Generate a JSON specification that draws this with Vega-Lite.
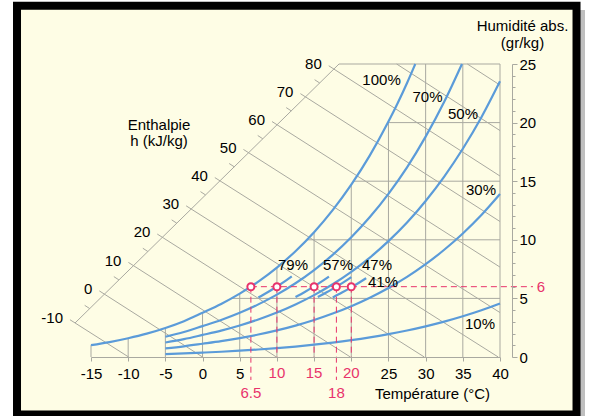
{
  "$schema": "https://vega.github.io/schema/vega-lite/v6.json",
  "width": 409,
  "height": 293,
  "autosize": {"type": "none"},
  "padding": {"left": 91, "top": 64, "right": 90, "bottom": 59},
  "background": "white",
  "config": {
    "font": "Liberation Sans",
    "view": {"stroke": null},
    "axis": {
      "labelFont": "Liberation Sans",
      "labelFontSize": 15,
      "labelColor": "#000",
      "domainColor": "#a9a9a0",
      "tickColor": "#a9a9a0",
      "grid": false,
      "titleFont": "Liberation Sans",
      "titleFontWeight": "normal",
      "titleFontSize": 15,
      "titleColor": "#000",
      "labelOverlap": false,
      "labelFlush": false
    },
    "text": {"font": "Liberation Sans", "fontSize": 15, "color": "#000"}
  },
  "resolve": {"axis": {"x": "independent", "y": "independent"}},
  "datasets": {
    "frame": [{"T": -24.95, "T2": 50.29, "w": -4.906, "w2": 29.97}],
    "shadow": [{"T": -23.88, "T2": 51.43, "w": -5.375, "w2": 29.61}],
    "vgrid": [
      {"T": -15, "w": 0, "w2": 1.016}, {"T": -10, "w": 0, "w2": 1.6}, {"T": -5, "w": 0, "w2": 2.476},
      {"T": 0, "w": 0, "w2": 3.775}, {"T": 5, "w": 0, "w2": 5.403}, {"T": 10, "w": 0, "w2": 7.632},
      {"T": 15, "w": 0, "w2": 10.65}, {"T": 20, "w": 0, "w2": 14.699}, {"T": 25, "w": 0, "w2": 20.086},
      {"T": 30, "w": 0, "w2": 25}, {"T": 35, "w": 0, "w2": 25}, {"T": 40, "w": 0, "w2": 25}
    ],
    "hgrid": [
      {"w": 5, "T": 3.91, "T2": 40}, {"w": 10, "T": 14.05, "T2": 40}, {"w": 15, "T": 20.32, "T2": 40},
      {"w": 20, "T": 24.93, "T2": 40}, {"w": 25, "T": 18.35, "T2": 40}
    ],
    "isen": [
      {"id": "axis", "T": -17.15, "w": 2.9}, {"id": "axis", "T": 18.35, "w": 25},
      {"id": "h-10", "T": -17.83, "w": 3.18}, {"id": "h-10", "T": -9.94, "w": 0},
      {"id": "h0", "T": -13.88, "w": 5.64}, {"id": "h0", "T": 0, "w": 0},
      {"id": "h10", "T": -9.97, "w": 8.07}, {"id": "h10", "T": 9.94, "w": 0},
      {"id": "h20", "T": -6.09, "w": 10.49}, {"id": "h20", "T": 19.88, "w": 0},
      {"id": "h30", "T": -2.21, "w": 12.9}, {"id": "h30", "T": 29.82, "w": 0},
      {"id": "h40", "T": 1.65, "w": 15.31}, {"id": "h40", "T": 39.76, "w": 0},
      {"id": "h50", "T": 5.5, "w": 17.71}, {"id": "h50", "T": 40, "w": 3.79},
      {"id": "h60", "T": 9.34, "w": 20.09}, {"id": "h60", "T": 40, "w": 7.67},
      {"id": "h70", "T": 13.16, "w": 22.47}, {"id": "h70", "T": 40, "w": 11.56},
      {"id": "h80", "T": 16.97, "w": 24.85}, {"id": "h80", "T": 40, "w": 15.44},
      {"id": "h90", "T": 26.1, "w": 25}, {"id": "h90", "T": 40, "w": 19.32},
      {"id": "h100", "T": 35.61, "w": 25}, {"id": "h100", "T": 40, "w": 23.2},
      {"id": "m-5", "T": -15.17, "w": 4.13}, {"id": "m-5", "T": -15.85, "w": 4.41},
      {"id": "m5", "T": -11.25, "w": 6.58}, {"id": "m5", "T": -11.93, "w": 6.86},
      {"id": "m15", "T": -7.35, "w": 9.0}, {"id": "m15", "T": -8.03, "w": 9.28},
      {"id": "m25", "T": -3.47, "w": 11.42}, {"id": "m25", "T": -4.15, "w": 11.7},
      {"id": "m35", "T": 0.4, "w": 13.83}, {"id": "m35", "T": -0.28, "w": 14.11},
      {"id": "m45", "T": 4.26, "w": 16.23}, {"id": "m45", "T": 3.58, "w": 16.51},
      {"id": "m55", "T": 8.1, "w": 18.62}, {"id": "m55", "T": 7.42, "w": 18.9},
      {"id": "m65", "T": 11.93, "w": 21.0}, {"id": "m65", "T": 11.25, "w": 21.28},
      {"id": "m75", "T": 15.75, "w": 23.38}, {"id": "m75", "T": 15.07, "w": 23.66}
    ],
    "hlabels": [
      {"lab": "-10", "T": -17.15, "w": 2.9}, {"lab": "0", "T": -13.2, "w": 5.36},
      {"lab": "10", "T": -9.29, "w": 7.79}, {"lab": "20", "T": -5.41, "w": 10.21},
      {"lab": "30", "T": -1.53, "w": 12.62}, {"lab": "40", "T": 2.33, "w": 15.03},
      {"lab": "50", "T": 6.18, "w": 17.43}, {"lab": "60", "T": 10.02, "w": 19.81},
      {"lab": "70", "T": 13.84, "w": 22.19}, {"lab": "80", "T": 17.65, "w": 24.57}
    ],
    "rh": [
      {"c": "100", "T": -15, "w": 1.016}, {"c": "100", "T": -12.5, "w": 1.275}, {"c": "100", "T": -10, "w": 1.6},
      {"c": "100", "T": -7.5, "w": 1.99}, {"c": "100", "T": -5, "w": 2.476}, {"c": "100", "T": -2.5, "w": 3.057},
      {"c": "100", "T": 0, "w": 3.775}, {"c": "100", "T": 2.5, "w": 4.524}, {"c": "100", "T": 5, "w": 5.403},
      {"c": "100", "T": 7.5, "w": 6.435}, {"c": "100", "T": 10, "w": 7.632}, {"c": "100", "T": 12.5, "w": 9.028},
      {"c": "100", "T": 15, "w": 10.65}, {"c": "100", "T": 17.5, "w": 12.53}, {"c": "100", "T": 20, "w": 14.699},
      {"c": "100", "T": 22.5, "w": 17.199}, {"c": "100", "T": 25, "w": 20.086}, {"c": "100", "T": 26.25, "w": 21.67},
      {"c": "100", "T": 27.5, "w": 23.38}, {"c": "100", "T": 28.61, "w": 25},
      {"c": "70", "T": -5, "w": 1.731}, {"c": "70", "T": -2.5, "w": 2.137}, {"c": "70", "T": 0, "w": 2.638},
      {"c": "70", "T": 2.5, "w": 3.16}, {"c": "70", "T": 5, "w": 3.772}, {"c": "70", "T": 7.5, "w": 4.49},
      {"c": "70", "T": 10, "w": 5.323}, {"c": "70", "T": 12.5, "w": 6.293}, {"c": "70", "T": 15, "w": 7.417},
      {"c": "70", "T": 17.5, "w": 8.719}, {"c": "70", "T": 20, "w": 10.217}, {"c": "70", "T": 22.5, "w": 11.94},
      {"c": "70", "T": 25, "w": 13.925}, {"c": "70", "T": 27.5, "w": 16.183}, {"c": "70", "T": 30, "w": 18.8},
      {"c": "70", "T": 32.5, "w": 21.775}, {"c": "70", "T": 34.885, "w": 25},
      {"c": "50", "T": -5, "w": 1.236}, {"c": "50", "T": -2.5, "w": 1.525}, {"c": "50", "T": 0, "w": 1.882},
      {"c": "50", "T": 2.5, "w": 2.254}, {"c": "50", "T": 5, "w": 2.69}, {"c": "50", "T": 7.5, "w": 3.201},
      {"c": "50", "T": 10, "w": 3.793}, {"c": "50", "T": 12.5, "w": 4.482}, {"c": "50", "T": 15, "w": 5.28},
      {"c": "50", "T": 17.5, "w": 6.203}, {"c": "50", "T": 20, "w": 7.264}, {"c": "50", "T": 22.5, "w": 8.482},
      {"c": "50", "T": 25, "w": 9.884}, {"c": "50", "T": 27.5, "w": 11.474}, {"c": "50", "T": 30, "w": 13.314},
      {"c": "50", "T": 32.5, "w": 15.399}, {"c": "50", "T": 35, "w": 17.771}, {"c": "50", "T": 37.5, "w": 20.458},
      {"c": "50", "T": 40, "w": 23.524},
      {"c": "30", "T": -5, "w": 0.741}, {"c": "30", "T": -2.5, "w": 0.914}, {"c": "30", "T": 0, "w": 1.128},
      {"c": "30", "T": 2.5, "w": 1.35}, {"c": "30", "T": 5, "w": 1.611}, {"c": "30", "T": 7.5, "w": 1.917},
      {"c": "30", "T": 10, "w": 2.27}, {"c": "30", "T": 12.5, "w": 2.681}, {"c": "30", "T": 15, "w": 3.157},
      {"c": "30", "T": 17.5, "w": 3.707}, {"c": "30", "T": 20, "w": 4.338}, {"c": "30", "T": 22.5, "w": 5.062},
      {"c": "30", "T": 25, "w": 5.893}, {"c": "30", "T": 27.5, "w": 6.834}, {"c": "30", "T": 30, "w": 7.92},
      {"c": "30", "T": 32.5, "w": 9.149}, {"c": "30", "T": 35, "w": 10.542}, {"c": "30", "T": 37.5, "w": 12.115},
      {"c": "30", "T": 40, "w": 13.904},
      {"c": "10", "T": -5, "w": 0.247}, {"c": "10", "T": -2.5, "w": 0.304}, {"c": "10", "T": 0, "w": 0.375},
      {"c": "10", "T": 2.5, "w": 0.45}, {"c": "10", "T": 5, "w": 0.536}, {"c": "10", "T": 7.5, "w": 0.638},
      {"c": "10", "T": 10, "w": 0.755}, {"c": "10", "T": 12.5, "w": 0.891}, {"c": "10", "T": 15, "w": 1.049},
      {"c": "10", "T": 17.5, "w": 1.231}, {"c": "10", "T": 20, "w": 1.439}, {"c": "10", "T": 22.5, "w": 1.678},
      {"c": "10", "T": 25, "w": 1.952}, {"c": "10", "T": 27.5, "w": 2.262}, {"c": "10", "T": 30, "w": 2.618},
      {"c": "10", "T": 32.5, "w": 3.02}, {"c": "10", "T": 35, "w": 3.475}, {"c": "10", "T": 37.5, "w": 3.987},
      {"c": "10", "T": 40, "w": 4.567},
      {"c": "79", "T": 7.5, "w": 5.073}, {"c": "79", "T": 8.75, "w": 5.523}, {"c": "79", "T": 10, "w": 6.014},
      {"c": "79", "T": 11.25, "w": 6.539}, {"c": "79", "T": 12, "w": 6.877},
      {"c": "57", "T": 12.5, "w": 5.114}, {"c": "57", "T": 13.75, "w": 5.552}, {"c": "57", "T": 15, "w": 6.026},
      {"c": "57", "T": 16.25, "w": 6.532}, {"c": "57", "T": 17, "w": 6.856},
      {"c": "47", "T": 15.5, "w": 5.124}, {"c": "47", "T": 16.75, "w": 5.55}, {"c": "47", "T": 18, "w": 6.015},
      {"c": "47", "T": 19.25, "w": 6.499}, {"c": "47", "T": 20, "w": 6.823},
      {"c": "41", "T": 17.5, "w": 5.077}, {"c": "41", "T": 18.75, "w": 5.497}, {"c": "41", "T": 20, "w": 5.944},
      {"c": "41", "T": 21.25, "w": 6.422}, {"c": "41", "T": 22, "w": 6.727}
    ],
    "rhlabels": [
      {"lab": "100%", "T": 24.07, "w": 23.63}, {"lab": "70%", "T": 30.25, "w": 22.18},
      {"lab": "50%", "T": 35.03, "w": 20.73}, {"lab": "30%", "T": 37.45, "w": 14.25},
      {"lab": "10%", "T": 37.31, "w": 2.82}, {"lab": "79%", "T": 12.16, "w": 7.85},
      {"lab": "57%", "T": 18.22, "w": 7.85}, {"lab": "47%", "T": 23.46, "w": 7.85},
      {"lab": "41%", "T": 24.27, "w": 6.4}
    ],
    "pts": [
      {"T": 6.5, "w": 6, "low": -1.96}, {"T": 10, "w": 6, "low": 0}, {"T": 15, "w": 6, "low": 0},
      {"T": 18, "w": 6, "low": -1.96}, {"T": 20, "w": 6, "low": 0}
    ],
    "hdash": [{"T": 6.5, "T2": 44.44, "w": 6}],
    "pinkticks": [{"T": 10, "w": 0, "lab": "10"}, {"T": 15, "w": 0, "lab": "15"}, {"T": 20, "w": 0, "lab": "20"}],
    "lowlabels": [{"T": 6.5, "w": 0, "lab": "6.5"}, {"T": 18, "w": 0, "lab": "18"}],
    "sixlabel": [{"T": 40, "w": 6, "lab": "6"}],
    "enth": [{"T": -5.86, "w": 19.8, "lab": "Enthalpie\nh (kJ/kg)"}]
  },
  "layer": [
    {
      "data": {"name": "shadow"},
      "mark": {"type": "rect", "fill": "#8a8a8a", "opacity": 0.55},
      "encoding": {
        "x": {"field": "T", "type": "quantitative", "scale": {"domain": [-15, 40], "nice": false, "zero": false}, "axis": null},
        "x2": {"field": "T2"},
        "y": {"field": "w", "type": "quantitative", "scale": {"domain": [0, 25], "nice": false, "zero": false}, "axis": null},
        "y2": {"field": "w2"}
      }
    },
    {
      "data": {"name": "frame"},
      "mark": {"type": "rect", "fill": "#fefde5", "stroke": "#000", "strokeWidth": 8},
      "encoding": {
        "x": {"field": "T", "type": "quantitative", "scale": {"domain": [-15, 40], "nice": false, "zero": false}, "axis": null},
        "x2": {"field": "T2"},
        "y": {"field": "w", "type": "quantitative", "scale": {"domain": [0, 25], "nice": false, "zero": false}, "axis": null},
        "y2": {"field": "w2"}
      }
    },
    {
      "data": {"name": "vgrid"},
      "mark": {"type": "rule", "color": "#a9a9a0", "strokeWidth": 1},
      "encoding": {
        "x": {"field": "T", "type": "quantitative", "scale": {"domain": [-15, 40], "nice": false, "zero": false}, "axis": null},
        "y": {
          "field": "w", "type": "quantitative",
          "scale": {"domain": [0, 25], "nice": false, "zero": false},
          "axis": {
            "zindex": 2,
            "orient": "right", "offset": 12,
            "values": [0, 5, 10, 15, 20, 25],
            "tickSize": 5,
            "labelPadding": 2,
            "title": ["Humidité abs.", "(gr/kg)"], "titleAngle": 0,
            "titleX": 10, "titleY": -34, "titleAlign": "center", "titleBaseline": "alphabetic",
            "titleLineHeight": 17
          }
        },
        "y2": {"field": "w2"}
      }
    },
    {
      "data": {"name": "hgrid"},
      "mark": {"type": "rule", "color": "#a9a9a0", "strokeWidth": 1},
      "encoding": {
        "x": {"field": "T", "type": "quantitative", "scale": {"domain": [-15, 40], "nice": false, "zero": false}, "axis": null},
        "x2": {"field": "T2"},
        "y": {
          "field": "w", "type": "quantitative",
          "scale": {"domain": [0, 25], "nice": false, "zero": false},
          "axis": {
            "zindex": 2,
            "orient": "right", "offset": 12,
            "values": [1,2,3,4,6,7,8,9,11,12,13,14,16,17,18,19,21,22,23,24],
            "tickSize": 3, "labels": false, "domain": false, "title": null
          }
        }
      }
    },
    {
      "data": {"name": "isen"},
      "mark": {"type": "line", "color": "#a9a9a0", "strokeWidth": 1},
      "encoding": {
        "x": {"field": "T", "type": "quantitative", "scale": {"domain": [-15, 40], "nice": false, "zero": false}, "axis": null},
        "y": {"field": "w", "type": "quantitative", "scale": {"domain": [0, 25], "nice": false, "zero": false}, "axis": null},
        "detail": {"field": "id"}
      }
    },
    {
      "data": {"name": "rh"},
      "mark": {"type": "line", "color": "#5b9bd9", "strokeWidth": 2.2, "interpolate": "monotone"},
      "encoding": {
        "x": {"field": "T", "type": "quantitative", "scale": {"domain": [-15, 40], "nice": false, "zero": false}, "axis": null},
        "y": {"field": "w", "type": "quantitative", "scale": {"domain": [0, 25], "nice": false, "zero": false}, "axis": null},
        "detail": {"field": "c"}
      }
    },
    {
      "data": {"name": "hdash"},
      "mark": {"type": "rule", "color": "#e8336b", "strokeWidth": 1, "strokeDash": [6, 4]},
      "encoding": {
        "x": {"field": "T", "type": "quantitative", "scale": {"domain": [-15, 40], "nice": false, "zero": false}, "axis": null},
        "x2": {"field": "T2"},
        "y": {"field": "w", "type": "quantitative", "scale": {"domain": [0, 25], "nice": false, "zero": false}, "axis": null}
      }
    },
    {
      "data": {"name": "pts"},
      "mark": {"type": "rule", "color": "#e8336b", "strokeWidth": 1, "strokeDash": [6, 4]},
      "encoding": {
        "x": {"field": "T", "type": "quantitative", "scale": {"domain": [-15, 40], "nice": false, "zero": false}, "axis": null},
        "y": {"field": "w", "type": "quantitative", "scale": {"domain": [0, 25], "nice": false, "zero": false}, "axis": null},
        "y2": {"field": "low"}
      }
    },
    {
      "data": {"name": "pts"},
      "mark": {"type": "point", "shape": "circle", "size": 50, "filled": false, "fill": "#ffffff", "fillOpacity": 1, "stroke": "#e8336b", "strokeWidth": 2, "opacity": 1},
      "encoding": {
        "x": {"field": "T", "type": "quantitative", "scale": {"domain": [-15, 40], "nice": false, "zero": false}, "axis": null},
        "y": {"field": "w", "type": "quantitative", "scale": {"domain": [0, 25], "nice": false, "zero": false}, "axis": null}
      }
    },
    {
      "data": {"name": "rhlabels"},
      "mark": {"type": "text", "align": "center", "baseline": "middle"},
      "encoding": {
        "x": {"field": "T", "type": "quantitative", "scale": {"domain": [-15, 40], "nice": false, "zero": false}, "axis": null},
        "y": {"field": "w", "type": "quantitative", "scale": {"domain": [0, 25], "nice": false, "zero": false}, "axis": null},
        "text": {"field": "lab"}
      }
    },
    {
      "data": {"name": "hlabels"},
      "mark": {"type": "text", "align": "right", "baseline": "middle", "dx": -12, "dy": -5},
      "encoding": {
        "x": {"field": "T", "type": "quantitative", "scale": {"domain": [-15, 40], "nice": false, "zero": false}, "axis": null},
        "y": {"field": "w", "type": "quantitative", "scale": {"domain": [0, 25], "nice": false, "zero": false}, "axis": null},
        "text": {"field": "lab"}
      }
    },
    {
      "data": {"name": "enth"},
      "mark": {"type": "text", "align": "center", "baseline": "middle", "lineBreak": "\n", "lineHeight": 16},
      "encoding": {
        "x": {"field": "T", "type": "quantitative", "scale": {"domain": [-15, 40], "nice": false, "zero": false}, "axis": null},
        "y": {"field": "w", "type": "quantitative", "scale": {"domain": [0, 25], "nice": false, "zero": false}, "axis": null},
        "text": {"field": "lab"}
      }
    },
    {
      "data": {"name": "pinkticks"},
      "mark": {"type": "text", "align": "center", "baseline": "alphabetic", "dy": 21, "color": "#e8336b"},
      "encoding": {
        "x": {
          "field": "T", "type": "quantitative",
          "scale": {"domain": [-15, 40], "nice": false, "zero": false},
          "axis": {
            "zindex": 3,
            "orient": "bottom",
            "values": [-15, -10, -5, 0, 5, 10, 15, 20, 25, 30, 35, 40],
            "labelExpr": "(datum.value == 10 || datum.value == 15 || datum.value == 20) ? '' : (datum.value < 0 ? '-' + abs(datum.value) : datum.label)",
            "tickSize": 4, "labelPadding": 17, "labelBaseline": "alphabetic",
            "title": "Température (°C)", "titleX": 341, "titleY": 41,
            "titleAlign": "center", "titleBaseline": "alphabetic"
          }
        },
        "y": {"field": "w", "type": "quantitative", "scale": {"domain": [0, 25], "nice": false, "zero": false}, "axis": null},
        "text": {"field": "lab"}
      }
    },
    {
      "data": {"name": "lowlabels"},
      "mark": {"type": "text", "align": "center", "baseline": "alphabetic", "dy": 41, "color": "#e8336b"},
      "encoding": {
        "x": {"field": "T", "type": "quantitative", "scale": {"domain": [-15, 40], "nice": false, "zero": false}, "axis": null},
        "y": {"field": "w", "type": "quantitative", "scale": {"domain": [0, 25], "nice": false, "zero": false}, "axis": null},
        "text": {"field": "lab"}
      }
    },
    {
      "data": {"name": "sixlabel"},
      "mark": {"type": "text", "align": "center", "baseline": "middle", "dx": 41, "color": "#e8336b"},
      "encoding": {
        "x": {"field": "T", "type": "quantitative", "scale": {"domain": [-15, 40], "nice": false, "zero": false}, "axis": null},
        "y": {"field": "w", "type": "quantitative", "scale": {"domain": [0, 25], "nice": false, "zero": false}, "axis": null},
        "text": {"field": "lab"}
      }
    }
  ]
}
